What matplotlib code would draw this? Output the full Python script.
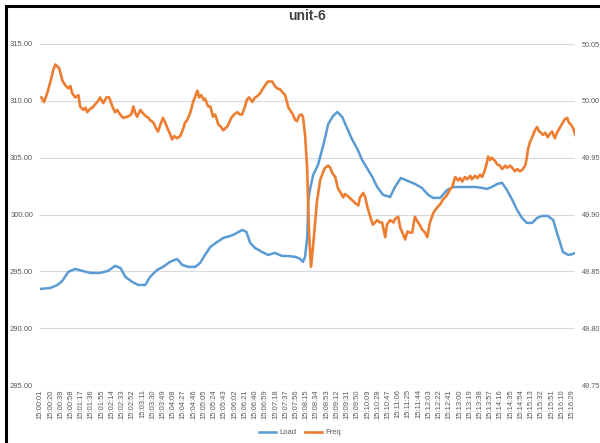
import numpy as np
import matplotlib
matplotlib.use('Agg')
import matplotlib.pyplot as plt
from matplotlib.patches import Rectangle

plt.rcParams['font.family'] = ['Liberation Sans', 'DejaVu Sans']

title = 'unit-6'

# seconds after 15:00:01 -> Load (left axis)
load_t = [0, 19, 32, 41, 52, 65, 78, 93, 111, 126, 139, 149, 158, 171, 182, 195,
          204, 217, 228, 241, 254, 264, 275, 288, 297, 306, 316, 329, 340, 353,
          362, 375, 383, 390, 399, 412, 423, 436, 449, 461, 474, 483, 488, 492,
          496, 498, 501, 507, 516, 526, 535, 544, 552, 561, 570, 579, 589, 598,
          607, 617, 626, 637, 650, 659, 670, 683, 696, 709, 721, 730, 743, 756,
          767, 780, 795, 808, 821, 830, 839, 849, 858, 867, 877, 886, 895, 904,
          914, 923, 932, 943, 953, 960, 966, 971, 981, 990, 994]
load = [293.45, 293.54, 293.80, 294.16, 294.95, 295.21, 295.04, 294.86, 294.86,
        295.04, 295.48, 295.30, 294.51, 294.07, 293.80, 293.80, 294.51, 295.12,
        295.39, 295.83, 296.09, 295.56, 295.39, 295.39, 295.74, 296.44, 297.15,
        297.59, 297.94, 298.11, 298.29, 298.64, 298.47, 297.50, 297.06, 296.71,
        296.44, 296.62, 296.35, 296.35, 296.27, 296.09, 295.83, 296.27, 298.03,
        301.28, 302.16, 303.48, 304.36, 306.12, 307.96, 308.67, 309.02, 308.58,
        307.61, 306.64, 305.77, 304.80, 304.09, 303.30, 302.42, 301.72, 301.54,
        302.42, 303.21, 302.95, 302.69, 302.34, 301.72, 301.46, 301.46, 302.16,
        302.42, 302.42, 302.42, 302.42, 302.34, 302.25, 302.42, 302.69, 302.78,
        302.16, 301.28, 300.40, 299.70, 299.26, 299.26, 299.70, 299.87, 299.87,
        299.52, 298.38, 297.50, 296.71, 296.44, 296.53, 296.62]

# seconds after 15:00:01 -> Freq (right axis)
freq_t = [2, 7, 13, 19, 24, 28, 32, 35, 41, 46, 52, 56, 59, 65, 71, 74, 80, 84,
          87, 93, 97, 102, 106, 111, 117, 123, 128, 134, 139, 143, 147, 150, 154,
          162, 169, 173, 176, 180, 186, 191, 195, 201, 204, 210, 215, 219, 223,
          228, 232, 238, 241, 245, 249, 254, 260, 266, 269, 273, 279, 284, 288,
          292, 295, 299, 303, 306, 312, 316, 321, 325, 331, 336, 340, 344, 347,
          351, 355, 360, 366, 371, 375, 381, 384, 388, 394, 399, 403, 409, 414,
          420, 423, 427, 431, 436, 440, 446, 449, 455, 461, 464, 468, 474, 477,
          481, 485, 488, 492, 496, 498, 500, 503, 507, 511, 514, 520, 526, 529,
          535, 539, 542, 548, 553, 557, 563, 566, 572, 576, 581, 585, 591, 594,
          600, 604, 607, 613, 618, 622, 626, 631, 635, 641, 644, 650, 656, 659,
          665, 669, 672, 678, 682, 687, 691, 696, 702, 706, 709, 715, 719, 724,
          730, 734, 739, 743, 748, 754, 758, 761, 765, 771, 776, 780, 784, 789,
          793, 799, 802, 808, 812, 817, 821, 826, 830, 832, 836, 839, 845, 849,
          854, 858, 864, 867, 873, 877, 882, 886, 891, 895, 901, 904, 906, 910,
          914, 919, 923, 927, 930, 934, 938, 943, 947, 951, 956, 960, 966, 971,
          975, 979, 982, 986, 990, 994]
freq = [50.003, 49.999, 50.007, 50.017, 50.027, 50.032, 50.030, 50.029, 50.018,
        50.014, 50.011, 50.013, 50.007, 50.003, 50.005, 49.995, 49.992, 49.994,
        49.990, 49.993, 49.994, 49.997, 49.999, 50.003, 49.998, 50.003, 50.003,
        49.995, 49.990, 49.992, 49.989, 49.987, 49.985, 49.986, 49.988, 49.995,
        49.990, 49.986, 49.992, 49.989, 49.987, 49.985, 49.983, 49.981, 49.976,
        49.973, 49.979, 49.985, 49.981, 49.974, 49.971, 49.966, 49.969, 49.967,
        49.969, 49.976, 49.981, 49.983, 49.990, 49.999, 50.004, 50.009, 50.003,
        50.005, 50.001, 50.002, 49.995, 49.995, 49.986, 49.988, 49.979, 49.977,
        49.974, 49.976, 49.977, 49.981, 49.985, 49.988, 49.990, 49.988, 49.988,
        49.996, 50.001, 50.003, 49.999, 50.003, 50.004, 50.007, 50.011, 50.015,
        50.017, 50.017, 50.017, 50.013, 50.011, 50.010, 50.008, 50.005, 49.994,
        49.992, 49.989, 49.983, 49.982, 49.987, 49.988, 49.986, 49.970, 49.939,
        49.904, 49.878, 49.854, 49.873, 49.895, 49.911, 49.930, 49.938, 49.941,
        49.943, 49.941, 49.937, 49.933, 49.923, 49.920, 49.915, 49.918, 49.916,
        49.914, 49.912, 49.910, 49.908, 49.915, 49.919, 49.915, 49.908, 49.898,
        49.891, 49.893, 49.895, 49.893, 49.893, 49.880, 49.891, 49.895, 49.893,
        49.896, 49.898, 49.888, 49.885, 49.878, 49.885, 49.884, 49.884, 49.898,
        49.893, 49.890, 49.887, 49.884, 49.880, 49.893, 49.901, 49.904, 49.907,
        49.909, 49.913, 49.916, 49.919, 49.922, 49.924, 49.933, 49.930, 49.932,
        49.929, 49.933, 49.931, 49.934, 49.931, 49.934, 49.932, 49.935, 49.933,
        49.939, 49.946, 49.951, 49.948, 49.950, 49.947, 49.944, 49.943, 49.940,
        49.943, 49.941, 49.943, 49.941, 49.938, 49.940, 49.938, 49.939, 49.943,
        49.950, 49.957, 49.964, 49.968, 49.974, 49.977, 49.973, 49.972, 49.970,
        49.972, 49.968, 49.971, 49.973, 49.967, 49.972, 49.977, 49.981, 49.984,
        49.985, 49.981, 49.979, 49.976, 49.970]

tick_labels = ['15:00:01', '15:00:20', '15:00:39', '15:00:58', '15:01:17', '15:01:36',
               '15:01:55', '15:02:14', '15:02:33', '15:02:52', '15:03:11', '15:03:30',
               '15:03:49', '15:04:08', '15:04:27', '15:04:46', '15:05:05', '15:05:24',
               '15:05:43', '15:06:02', '15:06:21', '15:06:40', '15:06:59', '15:07:18',
               '15:07:37', '15:07:56', '15:08:15', '15:08:34', '15:08:53', '15:09:12',
               '15:09:31', '15:09:50', '15:10:09', '15:10:28', '15:10:47', '15:11:06',
               '15:11:25', '15:11:44', '15:12:03', '15:12:22', '15:12:41', '15:13:00',
               '15:13:19', '15:13:38', '15:13:57', '15:14:16', '15:14:35', '15:14:54',
               '15:15:13', '15:15:32', '15:15:51', '15:16:10', '15:16:29']
tick_step = 19

c_load = '#5B9BD5'
c_freq = '#ED7D31'
c_text = '#595959'
c_grid = '#D9D9D9'

fig = plt.figure(figsize=(6, 4.43), dpi=100)
ax = fig.add_axes([40/600, 1-385/443, 535/600, 341/443])
ax2 = ax.twinx()

l1, = ax.plot(load_t, load, color=c_load, lw=1.8, label='Load', zorder=3)
l2, = ax2.plot(freq_t, freq, color=c_freq, lw=1.9, label='Freq', zorder=3)

ax.set_xlim(-0.5, 993.5)
ax.set_ylim(285, 315)
ax.set_yticks(np.arange(285, 316, 5))
ax.set_yticklabels(['%.2f' % v for v in np.arange(285, 316, 5)])
ax2.set_ylim(49.75, 50.05)
ax2.set_yticks(np.arange(49.75, 50.06, 0.05))
ax2.set_yticklabels(['%.2f' % v for v in np.arange(49.75, 50.06, 0.05)])

ax.set_xticks(np.arange(len(tick_labels)) * tick_step)
ax.set_xticklabels(tick_labels, rotation=90)

ax.grid(axis='y', color=c_grid, lw=0.8)
ax.set_axisbelow(True)
for a in (ax, ax2):
    for s in a.spines.values():
        s.set_visible(False)
    a.tick_params(length=0, labelsize=5.5, labelcolor=c_text)
ax.tick_params(axis='y', pad=5)
ax2.tick_params(axis='y', pad=5, labelsize=5.2)
ax.tick_params(axis='x', pad=3)

fig.text(0.512, 0.965, title, ha='center', va='center', fontsize=10,
         fontweight='bold', color='#404040')

fig.legend([l1, l2], ['Load', 'Freq'], loc='center', bbox_to_anchor=(0.5, 0.023),
           ncol=2, frameon=False, fontsize=5.5, labelcolor=c_text,
           handlelength=2.2, columnspacing=1.2, handletextpad=0.4)

# black frame of the screenshot
fig.add_artist(Rectangle((6/600, -0.2), 1.2, 1.2 - 6/443, transform=fig.transFigure,
                         fill=False, edgecolor='black', lw=2.2))

fig.savefig('out.png', dpi=100)
